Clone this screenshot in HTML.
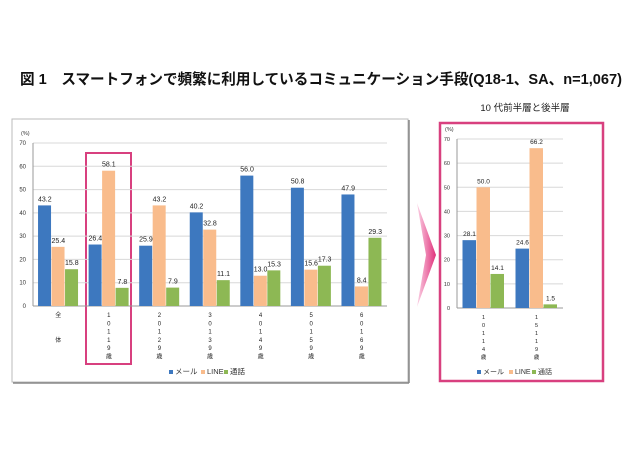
<!DOCTYPE html>
<html><head><meta charset="utf-8"><style>
body{margin:0;background:#fff;}
svg{display:block;font-family:"Liberation Sans","Noto Sans CJK JP",sans-serif;}
</style></head><body>
<svg width="640" height="450" viewBox="0 0 640 450" xmlns="http://www.w3.org/2000/svg">
<defs>
<linearGradient id="ag" x1="0" y1="0" x2="1" y2="0">
<stop offset="0" stop-color="#fbd3e6"/><stop offset="1" stop-color="#e0307a"/>
</linearGradient>
</defs>
<text x="20" y="84" font-size="15" font-weight="bold" fill="#111" textLength="602" lengthAdjust="spacingAndGlyphs">図 1　スマートフォンで頻繁に利用しているコミュニケーション手段(Q18-1、SA、n=1,067)</text>
<text x="525" y="111" font-size="9.5" text-anchor="middle" fill="#222">10 代前半層と後半層</text>
<rect x="12" y="119" width="396" height="263" fill="#fff" stroke="#bbb" stroke-width="1"/>
<line x1="13" y1="383" x2="409" y2="383" stroke="#888" stroke-width="1.5"/>
<line x1="409" y1="120" x2="409" y2="383" stroke="#888" stroke-width="1.5"/>
<polygon points="417,203 436,255 417,307 426,255" fill="url(#ag)"/>
<rect x="440" y="123" width="163" height="258" fill="#fff" stroke="#d8407f" stroke-width="2.5"/>
<rect x="86" y="153" width="45" height="211" fill="none" stroke="#d8407f" stroke-width="2"/>
<g id="left"></g>
<g id="right"></g>
</svg>
<script>
const leftCats=[["全","","","体"],["1","0","1","1","9","歳"],["2","0","1","2","9","歳"],["3","0","1","3","9","歳"],["4","0","1","4","9","歳"],["5","0","1","5","9","歳"],["6","0","1","6","9","歳"]];
const leftMail=[43.2,26.4,25.9,40.2,56.0,50.8,47.9];
const leftLine=[25.4,58.1,43.2,32.8,13.0,15.6,8.4];
const leftCall=[15.8,7.8,7.9,11.1,15.3,17.3,29.3];
const rightCats=[["1","0","1","1","4","歳"],["1","5","1","1","9","歳"]];
const rightMail=[28.1,24.6];
const rightLine=[50.0,66.2];
const rightCall=[14.1,1.5];
const yTicks=[0,10,20,30,40,50,60,70];
const colors=["#3d78bf","#f9bc8c","#8db854"];
const names=["メール","LINE","通話"];
const NS="http://www.w3.org/2000/svg";
function mk(p,t,a,txt){const e=document.createElementNS(NS,t);for(const k in a)e.setAttribute(k,a[k]);if(txt!==undefined)e.textContent=txt;p.appendChild(e);return e;}
function chart(g,o,cats,series,prefix){
 const y=v=>o.y0-(v/70)*(o.y0-o.y70);
 const gw=(o.x1-o.x0)/cats.length;
 const u=mk(g,"text",{x:o.x0-12,y:o.y70-8,"font-size":5.5,fill:"#333"},"(%)");
 
 
 yTicks.forEach(t=>{
  const l=mk(g,"line",{x1:o.x0,x2:o.x1,y1:y(t),y2:y(t),stroke:t===0?"#999":"#d8d8d8","stroke-width":1});
  
  
  const tx=mk(g,"text",{x:o.x0-7,y:y(t)+2,"font-size":o.fs,"text-anchor":"end",fill:"#333"},String(t));
  
  
 });
 mk(g,"line",{x1:o.x0,x2:o.x0,y1:o.y70,y2:o.y0,stroke:"#999"});
 cats.forEach((c,i)=>{
  const cx=o.x0+gw*(i+0.5);
  series.forEach((s,j)=>{
   const bx=cx-1.5*o.bw+j*o.bw;
   const r=mk(g,"rect",{x:bx,y:y(s[i]),width:o.bw-0.5,height:o.y0-y(s[i]),fill:colors[j]});
   
   
   const v=mk(g,"text",{x:bx+o.bw/2,y:y(s[i])-4,"font-size":o.fs+1,"text-anchor":"middle",fill:"#222"},s[i].toFixed(1));
   
   
  });
  c.forEach((ch,k)=>{
   const t=mk(g,"text",{x:cx,y:o.ly+k*o.ls,"font-size":o.fs,"text-anchor":"middle",fill:"#222"},ch);
   
   
  });
 });
 let lx=o.legx;
 names.forEach((n,j)=>{
  const r=mk(g,"rect",{x:lx,y:o.legy-4,width:4,height:4,fill:colors[j]});
  
  
  const t=mk(g,"text",{x:lx+6,y:o.legy,"font-size":o.fs+1.5,fill:"#333"},n);
  
  
  lx+=o.legstep[j];
 });
}
chart(document.getElementById("left"),{x0:33,x1:387,y0:306,y70:143,bw:13.5,fs:6,ly:317,ls:8.3,legx:169,legy:374,legstep:[32,23,0]},leftCats,[leftMail,leftLine,leftCall],"left");
chart(document.getElementById("right"),{x0:457,x1:563,y0:308,y70:139,bw:14,fs:5.5,ly:319,ls:8,legx:477,legy:374,legstep:[32,23,0]},rightCats,[rightMail,rightLine,rightCall],"right");
</script>
</body></html>
